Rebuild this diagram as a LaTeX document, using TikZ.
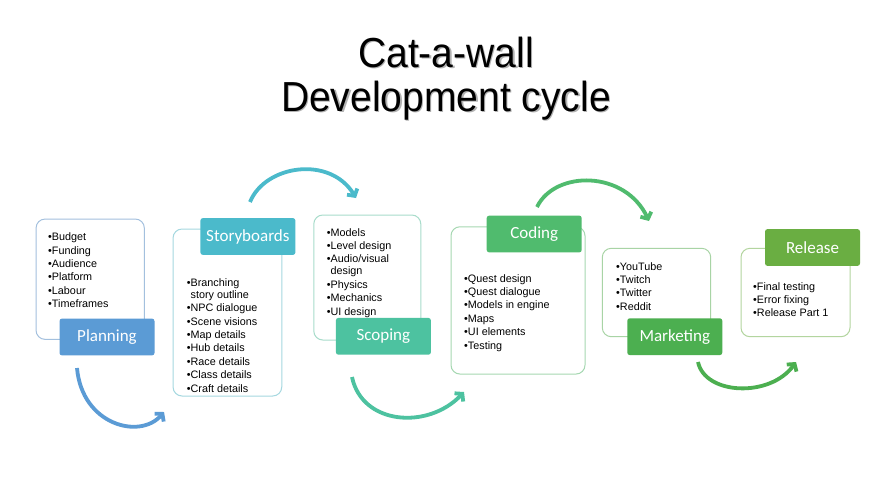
\documentclass[tikz,border=0pt]{standalone}
\usepackage{fontspec}
\setmainfont{Liberation Sans}
\newfontfamily\labelfont{Carlito}
\newfontfamily\titlefont[FakeStretch=0.93]{Liberation Sans}
\usetikzlibrary{arrows.meta}
\definecolor{planC}{HTML}{5B9BD5}\definecolor{planL}{HTML}{A3C0DE}
\definecolor{storyC}{HTML}{4BBACB}\definecolor{storyL}{HTML}{A5D8E0}
\definecolor{scopeC}{HTML}{4DC2A0}\definecolor{scopeL}{HTML}{A8DCCB}
\definecolor{codeC}{HTML}{50BB6E}\definecolor{codeL}{HTML}{A6D8B2}
\definecolor{markC}{HTML}{4CAF50}\definecolor{markL}{HTML}{A8D4A5}
\definecolor{relC}{HTML}{6AAE42}\definecolor{relL}{HTML}{B3D59F}
\tikzset{
  outl/.style={draw=#1, line width=1pt, rounded corners=9pt, fill=white, inner sep=0pt},
  lab/.style={fill=#1, rounded corners=2.5pt, inner sep=0pt, text=white,
    font=\labelfont\fontsize{17}{20}\selectfont, minimum width=95pt, minimum height=36.8pt},
  items/.style={anchor=north west, align=left, inner sep=0pt,
    font=\fontsize{10.8}{13.4}\selectfont},
  arcarrow/.style={draw=#1, line width=3.8pt, -{Straight Barb[length=5pt,width=12pt]}},
  ttl/.style={anchor=base, font=\titlefont\fontsize{42}{48}\selectfont}
}
\begin{document}
\begin{tikzpicture}[x=1pt,y=-1pt]
\useasboundingbox (0,0) rectangle (887,499);
\fill[white] (0,0) rectangle (887,499);

% title
\node[ttl, text=black!30] at (447.2,68.2) {Cat-a-wall};
\node[ttl, text=black!30] at (447.2,112.2) {Development cycle};
\node[ttl] (t1) at (446,67) {Cat-a-wall};
\node[ttl] (t2) at (446,111) {Development cycle};

% outline boxes
\node[outl=planL, minimum width=108.3pt, minimum height=120.3pt] (planbox) at (90.2,279.2) {};
\node[outl=storyL, minimum width=108.7pt, minimum height=167pt] (storybox) at (227.4,312.5) {};
\node[outl=scopeL, minimum width=107pt, minimum height=125pt] (scopebox) at (367.3,277.5) {};
\node[outl=codeL, minimum width=134pt, minimum height=147.3pt] (codebox) at (518,300.4) {};
\node[outl=markL, minimum width=108.4pt, minimum height=88.4pt] (markbox) at (656.5,292.5) {};
\node[outl=relL, minimum width=109pt, minimum height=88.4pt] (relbox) at (795.5,292.5) {};

% item lists
\node[items] (planitems) at (48,232.7) {•Budget\\•Funding\\•Audience\\•Platform\\•Labour\\•Timeframes};
\node[items] (storyitems) at (186.7,278.3) {•Branching\\[-1.4pt]\phantom{•}story outline\\•NPC dialogue\\•Scene visions\\•Map details\\•Hub details\\•Race details\\•Class details\\•Craft details};
\node[items] (scopeitems) at (326.7,228) {•Models\\•Level design\\•Audio/visual\\[-1.4pt]\phantom{•}design\\•Physics\\•Mechanics\\•UI design};
\node[items] (codeitems) at (464,274) {•Quest design\\•Quest dialogue\\•Models in engine\\•Maps\\•UI elements\\•Testing};
\node[items] (markitems) at (616,262) {•YouTube\\•Twitch\\•Twitter\\•Reddit};
\node[items] (relitems) at (753,282) {•Final testing\\•Error fixing\\•Release Part 1};

% labels
\node[lab=planC] (plan) at (107,337) {Planning};
\node[lab=storyC] (story) at (247.9,236.5) {Storyboards};
\node[lab=scopeC] (scope) at (383.4,336.3) {Scoping};
\node[lab=codeC] (code) at (534.2,234) {Coding};
\node[lab=markC] (mark) at (674.8,336.7) {Marketing};
\node[lab=relC] (rel) at (812.5,247.5) {Release};

% arcs
\coordinate (a1s) at (77,368);  \coordinate (a1e) at (164,412);
\coordinate (a2s) at (250,202); \coordinate (a2e) at (356,198);
\coordinate (a3s) at (352,377); \coordinate (a3e) at (464,392);
\coordinate (a4s) at (537,207); \coordinate (a4e) at (649,221);
\coordinate (a5s) at (698,362); \coordinate (a5e) at (796,362);
\draw[arcarrow=planC] (a1s) .. controls (82,425) and (140,440) .. (a1e);
\draw[arcarrow=storyC] (a2s) .. controls (265,165) and (330,155) .. (a2e);
\draw[arcarrow=scopeC] (a3s) .. controls (362,425) and (428,430) .. (a3e);
\draw[arcarrow=codeC] (a4s) .. controls (555,170) and (625,170) .. (a4e);
\draw[arcarrow=markC] (a5s) .. controls (705,395) and (770,398) .. (a5e);
\end{tikzpicture}
\end{document}
